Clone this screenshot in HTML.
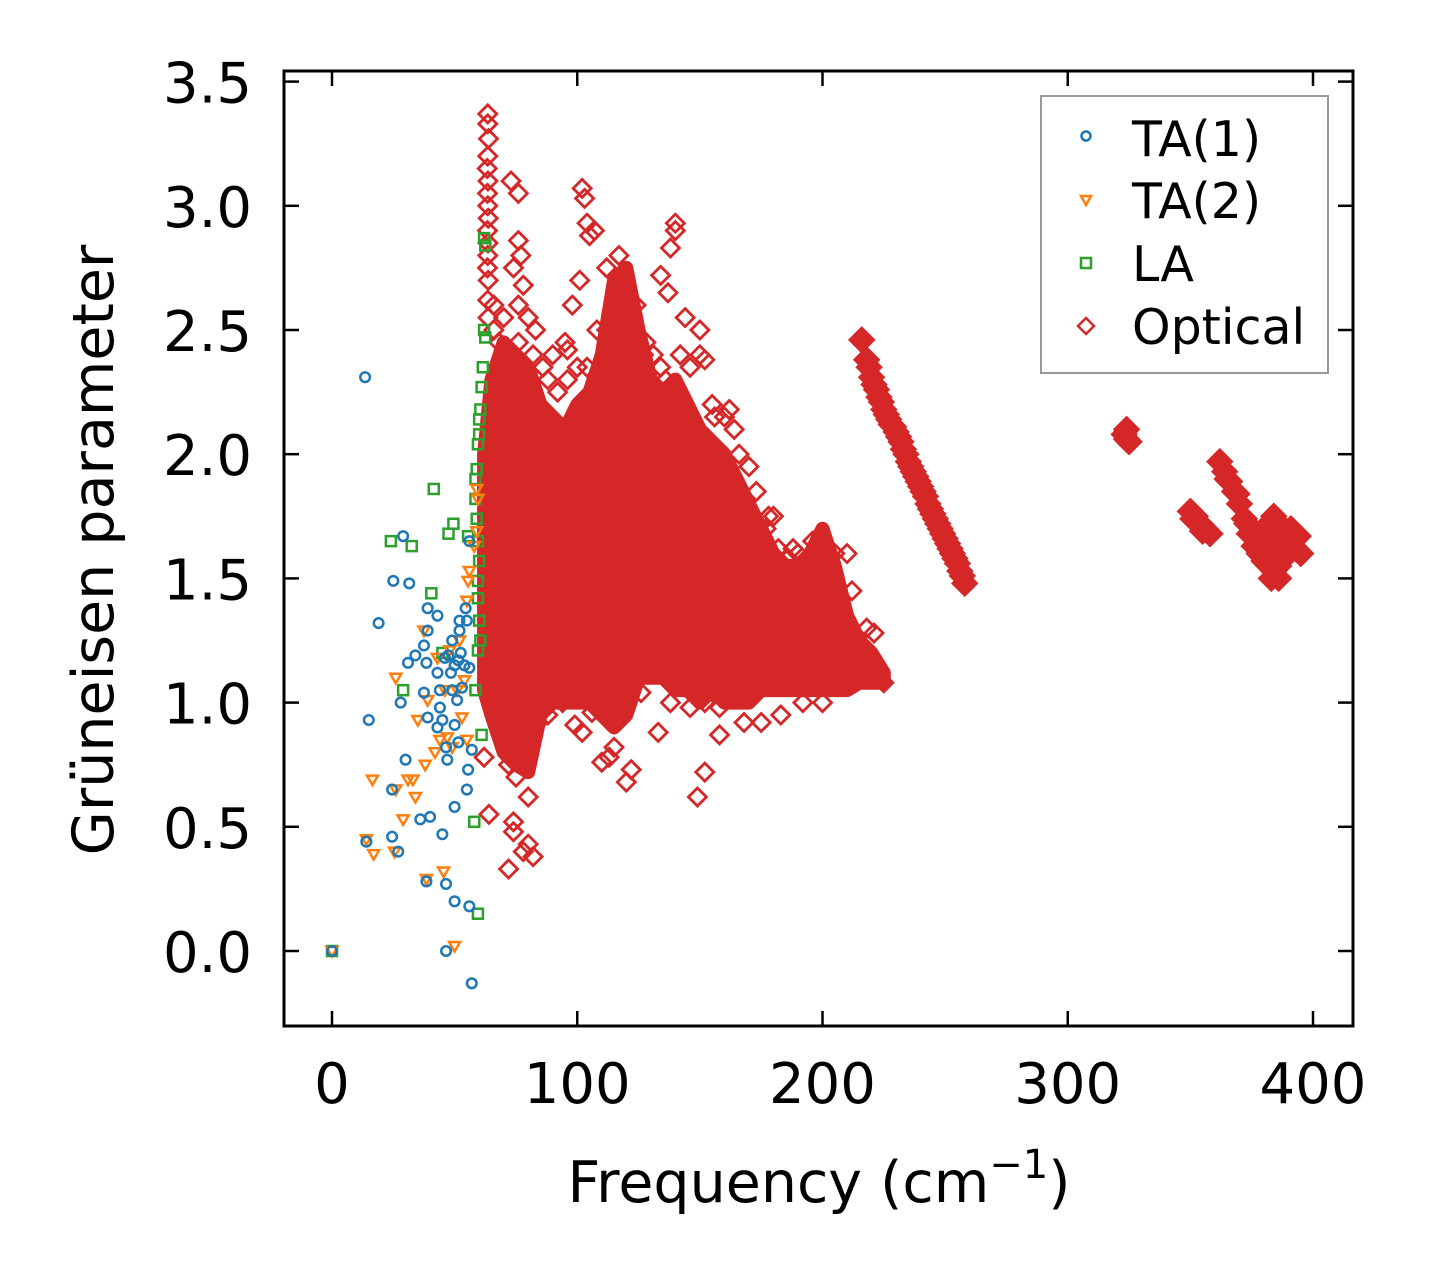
<!DOCTYPE html>
<html><head><meta charset="utf-8">
<style>
html,body{margin:0;padding:0;background:#fff;}
svg{display:block;font-family:"DejaVu Sans","Liberation Sans",sans-serif;}
</style></head>
<body>
<svg id="chart" width="1429" height="1275" viewBox="0 0 1429 1275" xmlns="http://www.w3.org/2000/svg">
<rect width="1429" height="1275" fill="#fff"/>
<g id="marks"></g>
<g id="axes"></g>
<text transform="translate(113,550) rotate(-90)" text-anchor="middle" font-size="57">Grüneisen parameter</text>
<text x="819" y="1202" text-anchor="middle" font-size="57">Frequency (cm<tspan dy="-24" font-size="40">−1</tspan><tspan dy="24">)</tspan></text>
<g>
<rect x="1041" y="96" width="287" height="277" fill="#fff" stroke="#999" stroke-width="2"/>
<circle cx="1086" cy="136" r="4.5" fill="none" stroke="#1f77b4" stroke-width="2.5"/>
<text x="1132" y="156" font-size="49">TA(1)</text>
<path d="M1081,196 L1091,196 L1086,205 Z" fill="none" stroke="#ff7f0e" stroke-width="2.5"/>
<text x="1132" y="218" font-size="49">TA(2)</text>
<rect x="1081" y="258" width="10" height="10" fill="none" stroke="#2ca02c" stroke-width="2.5"/>
<text x="1132" y="281" font-size="49">LA</text>
<path d="M1086,318 L1094,326 L1086,334 L1078,326 Z" fill="none" stroke="#d62728" stroke-width="2.5"/>
<text x="1132" y="344" font-size="49">Optical</text>
</g>
</svg>
<script>
// ---- data ----
const xTicks = [0,100,200,300,400];
const yTicks = [0.0,0.5,1.0,1.5,2.0,2.5,3.0,3.5];
const ta1F = [13.5,15,29,25,31.5,19,28,31,30,24.5,14,24.5,27,36,40,38.5,45,46.5,50,56,57,46.5,0,50,55,55.5,57,51.5,47,46.5,43,39,44,37.5,43,38.5,46,39,43,39,34,37.5,49,52,54.5,56,49,53,51.5,47.5,50,54,56,52.5,48.5,44,52,55,51,45,50];
const ta1G = [2.31,0.93,1.67,1.49,1.48,1.32,1.0,1.16,0.77,0.65,0.44,0.46,0.40,0.53,0.54,0.28,0.47,0.27,0.2,0.18,-0.13,0,0,0.58,0.65,0.73,0.81,0.84,0.77,0.82,0.9,0.94,0.98,1.04,1.12,1.16,1.18,1.29,1.35,1.38,1.19,1.23,1.25,1.29,1.38,1.65,1.05,1.06,1.17,1.19,1.15,1.15,1.14,1.2,1.12,1.05,1.33,1.33,1.01,0.93,0.91];
const ta2F = [0,50,45.5,38.5,25.5,17,14,29,16.5,26,31,34,33,38,42,44,47,26,35,39,46,43,37.5,48,52,55,55.5,56,58,59,59,59.5,54,51,55,49,53];
const ta2G = [0,0.02,0.32,0.29,0.4,0.39,0.45,0.53,0.69,0.65,0.69,0.62,0.69,0.75,0.8,0.85,0.86,1.1,0.93,1.01,1.05,1.18,1.29,1.21,1.25,1.41,1.49,1.53,1.63,1.69,1.86,1.82,1.09,1.05,0.85,0.82,0.94];
const laF = [0,24,32.5,41.5,49.5,47.5,40.5,29,45,59.5,61,58,59.5,55.5,62,62.5,62,62.5,61.5,61,60.5,60,60,59.5,59,58.5,58.5,59,59.5,60,59.5,59.5,60,60.5,58.5];
const laG = [0,1.65,1.63,1.86,1.72,1.68,1.44,1.05,1.2,1.21,0.87,0.52,0.15,1.67,2.87,2.84,2.5,2.47,2.35,2.27,2.18,2.14,2.08,2.04,1.94,1.9,1.82,1.74,1.65,1.57,1.49,1.42,1.33,1.25,1.05];
// sparse optical points (hollow diamonds)
const optF = [63.5,63.5,63.8,63.5,63.3,63.6,63.4,63.5,63.7,63.4,63.6,63.5,63.4,63.7,63.5,63.6,73,76,76,77,74,78,76,83,80,102,103,104,105,107,140,140,138,134,137,150,152,144,150,117,112,101,98,72,74,74,80,78,80,82,64,62,72,75,70,69,102,99,113,110,115,120,122,133,149,152,158,168,175,183,192,200,221,225,86,90,95,108,128,146,160,170,178,188,66,68,96,124,131,155,164,180,196,210,216,
  92,96,104,112,127,136,143,147,156,162,166,173,177,182,186,190,194,205,212,218,84,88,94,106,118,126,138,146,152,158,66,70,76,82,88,100,112,120,134,142];
const optG = [3.37,3.33,3.27,3.2,3.15,3.1,3.05,3.0,2.95,2.9,2.85,2.8,2.75,2.7,2.62,2.55,3.1,3.05,2.86,2.8,2.75,2.68,2.6,2.5,2.55,3.07,3.03,2.93,2.88,2.9,2.93,2.9,2.83,2.72,2.65,2.4,2.38,2.55,2.5,2.8,2.75,2.7,2.6,0.33,0.48,0.52,0.62,0.4,0.43,0.38,0.55,0.78,0.75,0.7,0.85,0.9,0.88,0.91,0.78,0.76,0.82,0.68,0.73,0.88,0.62,0.72,0.87,0.92,0.92,0.95,1.0,1.0,1.28,1.08,2.35,2.4,2.45,2.5,2.45,2.35,2.15,1.95,1.75,1.62,2.6,2.45,2.42,2.6,2.4,2.2,2.1,1.75,1.65,1.6,2.46,
  2.25,2.3,2.35,2.2,2.4,2.3,2.1,2.0,2.15,2.18,2.0,1.85,1.7,1.62,1.58,1.6,1.55,1.6,1.45,1.3,0.92,0.95,1.0,0.96,1.02,1.04,1.0,0.98,1.0,0.98,2.5,2.55,2.45,2.4,2.3,2.35,2.5,2.6,2.35,2.4];
// dense optical clusters (filled diamonds)
const denseF = [216,218,219,220,221,222,223,224,225,226,227,228,229,230,231,232,233,234,235,236,237,238,239,240,241,242,243,244,245,246,247,248,249,250,251,252,253,254,255,256,257,258,323,324,325,324,350,352,354,356,358,351,355,362,364,366,368,370,372,374,376,378,380,382,384,386,388,390,392,394,384,386,388,390,380,382,384,378,383,386,365,369,373,391,393,395];
const denseG = [2.46,2.38,2.35,2.31,2.28,2.26,2.23,2.21,2.18,2.16,2.14,2.12,2.11,2.09,2.07,2.05,2.02,2.0,1.97,1.95,1.93,1.91,1.89,1.87,1.85,1.83,1.8,1.78,1.76,1.74,1.72,1.7,1.68,1.66,1.64,1.62,1.6,1.58,1.56,1.53,1.51,1.48,2.08,2.06,2.05,2.1,1.77,1.75,1.72,1.7,1.68,1.74,1.69,1.97,1.93,1.89,1.85,1.8,1.74,1.68,1.63,1.6,1.57,1.55,1.53,1.55,1.58,1.62,1.65,1.67,1.6,1.65,1.7,1.68,1.65,1.72,1.75,1.68,1.5,1.5,1.9,1.84,1.72,1.7,1.62,1.6];
// envelope of the dense optical main cluster
const blobF = [62,65,70,75,80,85,90,95,100,105,110,115,120,125,130,135,140,145,150,155,160,165,170,175,180,185,190,195,200,205,210,215,220,225];
const blobHigh = [2.0,2.3,2.45,2.4,2.35,2.2,2.15,2.1,2.2,2.25,2.4,2.7,2.75,2.5,2.3,2.25,2.3,2.2,2.1,2.05,2.0,1.9,1.8,1.7,1.6,1.55,1.55,1.6,1.7,1.55,1.35,1.25,1.2,1.12];
const blobLow = [1.05,0.95,0.8,0.75,0.72,0.95,1.0,1.0,1.0,1.0,0.95,0.9,0.95,1.1,1.1,1.1,1.05,1.05,1.0,1.05,1.0,1.0,1.0,1.05,1.05,1.05,1.05,1.05,1.05,1.05,1.05,1.08,1.08,1.08];

// ---- axes functions ----
const PL=284, PR=1353, PT=71, PB=1026;
function xs(f){ return 332 + f*2.4525; }
function ys(g){ return 951 - g*248.4; }
const NS='http://www.w3.org/2000/svg';
const marks=document.getElementById('marks');
const axes=document.getElementById('axes');
function mk(tag, attrs, parent){
  const e=document.createElementNS(NS,tag);
  for(const k in attrs) e.setAttribute(k, attrs[k]);
  parent.appendChild(e); return e;
}
function diamond(x,y,r){ return `M${x},${y-r} L${x+r},${y} L${x},${y+r} L${x-r},${y} Z`; }

// optical blob
let pts=[];
for(let i=0;i<blobF.length;i++) pts.push(xs(blobF[i])+','+ys(blobHigh[i]));
for(let i=blobF.length-1;i>=0;i--) pts.push(xs(blobF[i])+','+ys(blobLow[i]));
const blob=mk('polygon',{points:pts.join(' '),fill:'#d62728',stroke:'#d62728','stroke-width':14,'stroke-linejoin':'round'},marks);



for(let i=0;i<denseF.length;i++){
  const p=mk('path',{d:diamond(xs(denseF[i]),ys(denseG[i]),12),fill:'#d62728',stroke:'#d62728','stroke-width':2.5},marks);
  
  
}
for(let i=0;i<optF.length;i++){
  const p=mk('path',{d:diamond(xs(optF[i]),ys(optG[i]),9),fill:'none',stroke:'#d62728','stroke-width':2.8},marks);
  
  
}
for(let i=0;i<laF.length;i++){
  const x=xs(laF[i]), y=ys(laG[i]);
  const p=mk('rect',{x:x-5,y:y-5,width:10,height:10,fill:'none',stroke:'#2ca02c','stroke-width':2.5},marks);
  
  
}
for(let i=0;i<ta2F.length;i++){
  const x=xs(ta2F[i]), y=ys(ta2G[i]);
  const p=mk('path',{d:`M${x-5.5},${y-4} L${x+5.5},${y-4} L${x},${y+5.5} Z`,fill:'none',stroke:'#ff7f0e','stroke-width':2.5},marks);
  
  
}
for(let i=0;i<ta1F.length;i++){
  const p=mk('circle',{cx:xs(ta1F[i]),cy:ys(ta1G[i]),r:4.8,fill:'none',stroke:'#1f77b4','stroke-width':2.5},marks);
  
  
}

// frame
const fr=mk('rect',{x:PL,y:PT,width:PR-PL,height:PB-PT,fill:'none',stroke:'#000','stroke-width':3},axes);


for(const t of xTicks){
  const x=xs(t);
  mk('line',{x1:x,y1:PB,x2:x,y2:PB-15,stroke:'#000','stroke-width':2.5},axes);
  mk('line',{x1:x,y1:PT,x2:x,y2:PT+15,stroke:'#000','stroke-width':2.5},axes);
  const tx=mk('text',{x:x,y:1103,'text-anchor':'middle','font-size':56},axes);
  tx.textContent=String(t);
  
  
}
for(const t of yTicks){
  const y=ys(t);
  mk('line',{x1:PL,y1:y,x2:PL+15,y2:y,stroke:'#000','stroke-width':2.5},axes);
  mk('line',{x1:PR,y1:y,x2:PR-15,y2:y,stroke:'#000','stroke-width':2.5},axes);
  const tx=mk('text',{x:252,y:y+21,'text-anchor':'end','font-size':56},axes);
  tx.textContent=t.toFixed(1);
  
  
}
</script>
</body></html>
